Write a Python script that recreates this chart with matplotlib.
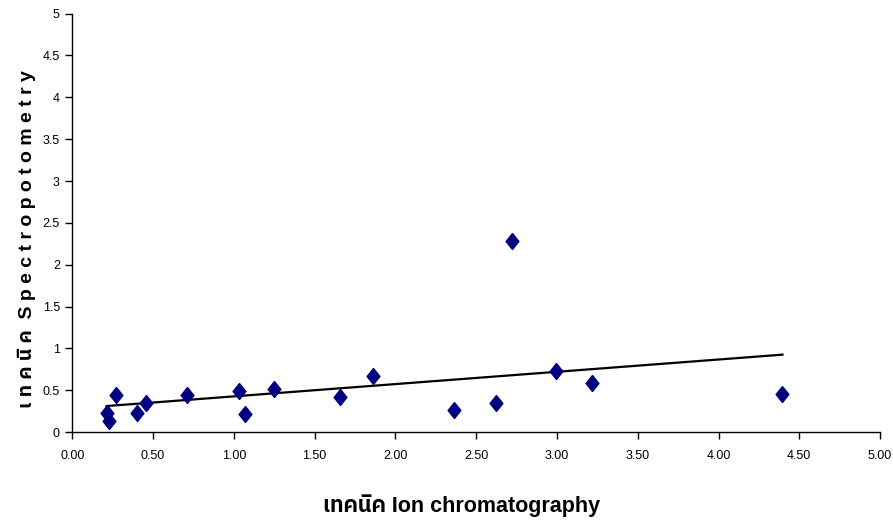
import matplotlib
matplotlib.use("Agg")
import matplotlib.pyplot as plt
import numpy as np
from matplotlib import font_manager
from matplotlib.ft2font import FT2Font
from matplotlib.ticker import FormatStrFormatter, FuncFormatter

# data
ic_values = [0.212, 0.227, 0.272, 0.398, 0.453, 0.712, 1.031, 1.070, 1.247,
             1.659, 1.862, 2.362, 2.623, 2.720, 2.992, 3.218, 4.396]
spectro_values = [0.228, 0.135, 0.44, 0.228, 0.347, 0.446, 0.494, 0.219, 0.514,
                  0.426, 0.666, 0.267, 0.351, 2.279, 0.726, 0.587, 0.459]
x_label = "เทคนิค Ion chromatography"
y_label = "เทคนิค Spectropotometry"

# find a font with Thai glyphs
thai_font = None
for f in font_manager.fontManager.ttflist:
    try:
        ft = FT2Font(f.fname)
        cm = ft.get_charmap()
        if 0x0E40 in cm and 0x0E17 in cm:
            thai_font = f.name
            if "Sans" in f.name:
                break
    except Exception:
        pass

base = "Liberation Sans"
fams = [base] + ([thai_font] if thai_font else []) + ["DejaVu Sans"]
plt.rcParams['font.family'] = fams

fig = plt.figure(figsize=(8.93, 5.22), dpi=100)
ax = fig.add_axes([0.081, 0.172, 0.9045, 0.802])

diamond = [(0, 1), (0.8, 0), (0, -1), (-0.8, 0), (0, 1)]
ax.plot(ic_values, spectro_values, linestyle='none', marker=diamond,
        markersize=11.5, color='#000080', markeredgecolor='#000080', zorder=3)

xa = np.array(ic_values)
ya = np.array(spectro_values)
slope, intercept = np.polyfit(xa, ya, 1)
xl = np.array([xa.min(), xa.max()])
ax.plot(xl, slope * xl + intercept, color='black', linewidth=1.6, zorder=2)

ax.set_xlim(0, 5)
ax.set_ylim(0, 5)
ax.set_xticks(np.arange(0, 5.01, 0.5))
ax.set_yticks(np.arange(0, 5.01, 0.5))
ax.xaxis.set_major_formatter(FormatStrFormatter('%.2f'))
ax.yaxis.set_major_formatter(FuncFormatter(lambda v, p: ('%g' % v)))
ax.spines['top'].set_visible(False)
ax.spines['right'].set_visible(False)
for s in ('left', 'bottom'):
    ax.spines[s].set_color('black')
    ax.spines[s].set_linewidth(1.0)
ax.tick_params(axis='both', direction='out', length=5, width=1.0,
               labelsize=9, colors='black', pad=4)
ax.tick_params(axis='x', pad=8)

fig.text(0.517, 0.031, x_label, ha='center', va='center',
         fontsize=15.5, fontweight='bold')
spaced = " ".join(list("เทค")) + " " + "นิ" + " " + "ค" + "  " + " ".join(list("Spectropotometry"))
fig.text(0.030, 0.542, spaced, ha='center', va='center', rotation=90,
         fontsize=14, fontweight='bold')

fig.savefig("out.png", dpi=100)
